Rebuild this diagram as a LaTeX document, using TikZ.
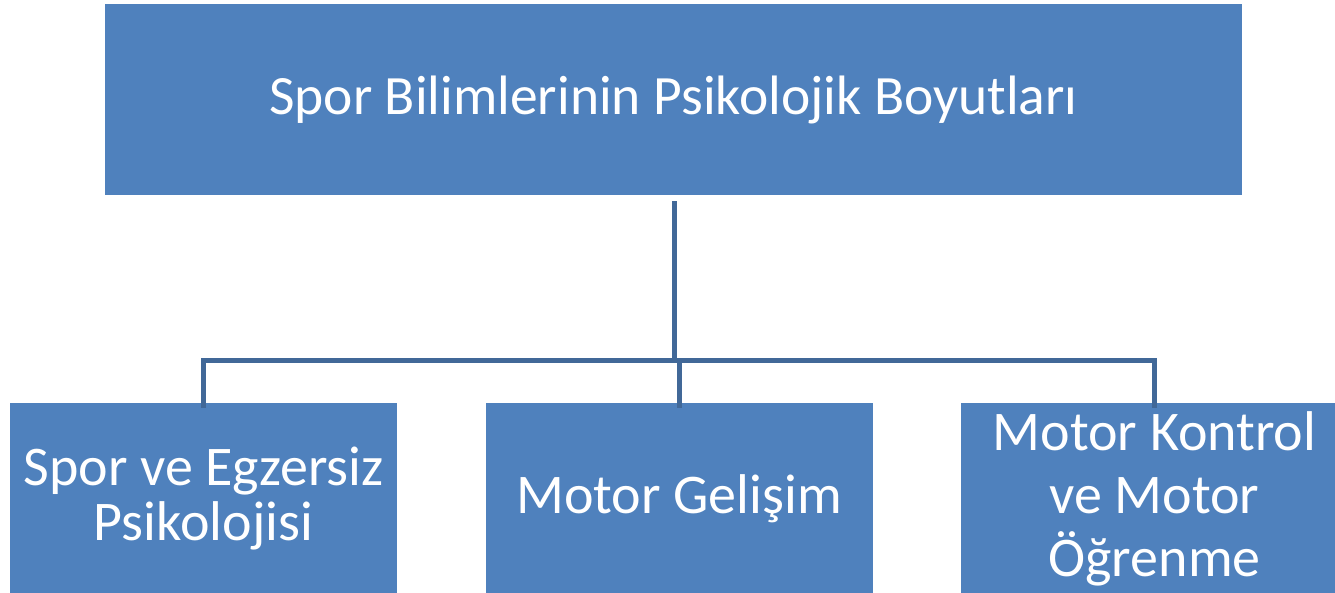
\documentclass[tikz,border=0pt]{standalone}
\usepackage{fontspec}
\setmainfont{Carlito}
\definecolor{boxblue}{RGB}{79,129,189}
\definecolor{linkblue}{RGB}{65,104,152}
\tikzset{
  box/.style={fill=boxblue, text=white, align=center, inner sep=0pt,
    minimum width=387pt, minimum height=191pt,
    font=\fontsize{56}{63}\selectfont},
  link/.style={draw=linkblue, line width=5pt}
}
\begin{document}
\begin{tikzpicture}[x=1pt, y=-1pt]
\useasboundingbox (0,0) rectangle (1335,593);
\clip (0,0) rectangle (1335,593);
\node[box, minimum width=1137pt, font=\fontsize{55.5}{60}\selectfont](top) at (673.5, 99.5) {Spor Bilimlerinin Psikolojik Boyutları};
\node[box, font=\fontsize{56}{55}\selectfont](sport) at (203.5, 498.5) {Spor ve Egzersiz\\Psikolojisi};
\node[box](dev) at (679, 498.5) {Motor Gelişim};
\node[box](ctrl) at (1154.5, 498.5) {Motor Kontrol\\ve Motor\\Öğrenme};
\coordinate(bar) at (674, 360);
\draw[link] ([yshift=-5pt]sport.north) |- (bar) -| ([yshift=-5pt]ctrl.north);
\draw[link] ([yshift=-5pt]dev.north) -- (dev.north |- bar);
\draw[link] ([yshift=-6pt]top.south -| bar) -- (bar);
\end{tikzpicture}
\end{document}
